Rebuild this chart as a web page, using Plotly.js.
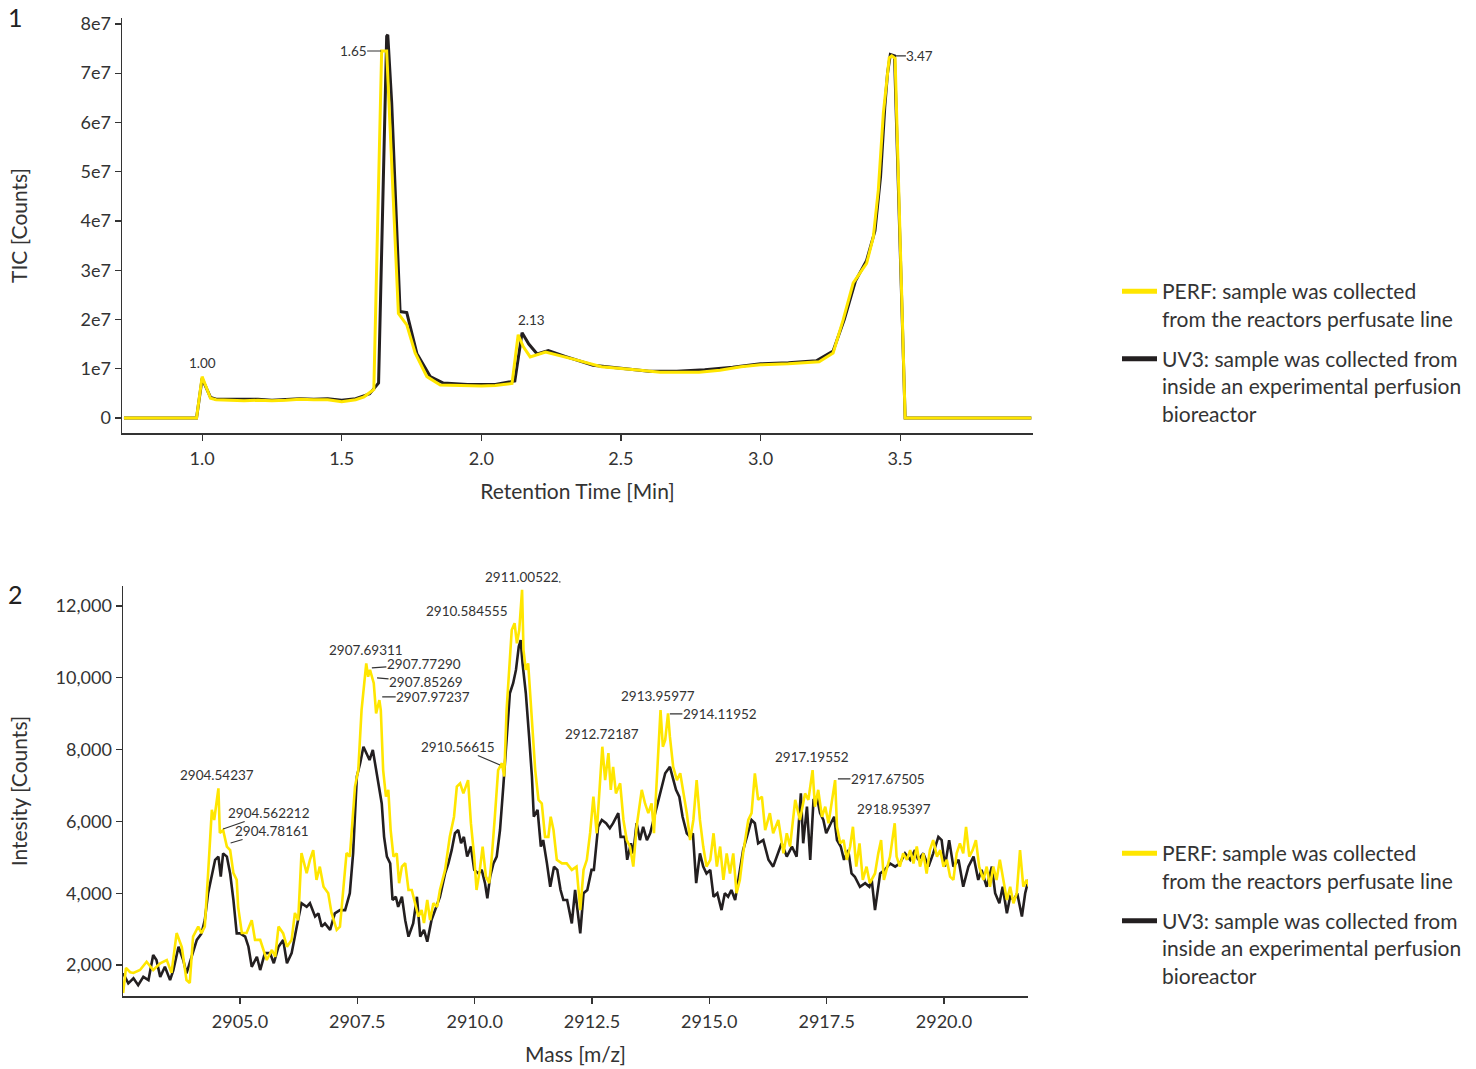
<!DOCTYPE html>
<html>
<head>
<meta charset="utf-8">
<script src="https://cdn.plot.ly/plotly-3.0.1.min.js"></script>
<style>html,body{margin:0;padding:0;background:#fff;}#chart{width:1476px;height:1069px;}</style>
</head>
<body>
<div id="chart"></div>
<script>
// ---------- Panel 1: TIC chromatogram ----------
const rtPerf = [0.72, 0.98, 1.00, 1.03, 1.05, 1.10, 1.15, 1.20, 1.25, 1.30,
  1.35, 1.40, 1.45, 1.50, 1.55, 1.58, 1.615, 1.643, 1.661, 1.703,
  1.733, 1.763, 1.805, 1.853, 1.90, 2.00, 2.05, 2.11, 2.132, 2.15,
  2.175, 2.23, 2.34, 2.43, 2.57, 2.64, 2.78, 2.855, 2.93, 3.00,
  3.10, 3.21, 3.26, 3.296, 3.332, 3.38, 3.404, 3.422, 3.44, 3.452,
  3.461, 3.47, 3.482, 3.518, 3.97];
const ticPerf = [0, 0, 8.4e6, 4.0e6, 3.7e6, 3.6e6, 3.5e6, 3.6e6, 3.5e6, 3.6e6,
  3.8e6, 3.7e6, 3.7e6, 3.3e6, 3.7e6, 4.3e6, 5.8e6, 7.45e7, 7.45e7, 2.12e7,
  1.89e7, 1.32e7, 8.4e6, 6.7e6, 6.6e6, 6.5e6, 6.6e6, 7.0e6, 1.69e7, 1.45e7,
  1.24e7, 1.34e7, 1.18e7, 1.04e7, 9.7e6, 9.3e6, 9.3e6, 9.7e6, 1.04e7, 1.08e7,
  1.10e7, 1.14e7, 1.32e7, 1.99e7, 2.74e7, 3.14e7, 3.67e7, 4.63e7, 6.19e7, 6.86e7,
  7.31e7, 7.35e7, 7.3e7, 0, 0];
const rtUv3 = [0.72, 0.98, 1.00, 1.03, 1.05, 1.10, 1.15, 1.20, 1.25, 1.30,
  1.35, 1.40, 1.45, 1.50, 1.55, 1.60, 1.632, 1.661, 1.665, 1.679,
  1.709, 1.733, 1.769, 1.817, 1.864, 1.95, 2.05, 2.12, 2.146, 2.17,
  2.20, 2.24, 2.30, 2.40, 2.50, 2.60, 2.70, 2.80, 2.90, 3.00,
  3.10, 3.20, 3.26, 3.30, 3.34, 3.38, 3.41, 3.43, 3.445, 3.455,
  3.465, 3.48, 3.518, 3.97];
const ticUv3 = [0, 0, 8.0e6, 4.2e6, 3.8e6, 3.8e6, 3.7e6, 3.8e6, 3.6e6, 3.8e6,
  3.9e6, 3.8e6, 3.9e6, 3.6e6, 3.9e6, 4.9e6, 7.1e6, 7.75e7, 7.78e7, 6.4e7,
  2.16e7, 2.14e7, 1.31e7, 8.4e6, 7.1e6, 6.8e6, 6.8e6, 7.5e6, 1.73e7, 1.5e7,
  1.3e7, 1.37e7, 1.25e7, 1.07e7, 1.01e7, 9.5e6, 9.5e6, 9.8e6, 1.03e7, 1.1e7,
  1.12e7, 1.16e7, 1.36e7, 2.0e7, 2.78e7, 3.2e7, 3.8e7, 4.9e7, 6.3e7, 7.0e7,
  7.38e7, 7.35e7, 0, 0];
const ticTickVals = [0, 1e7, 2e7, 3e7, 4e7, 5e7, 6e7, 7e7, 8e7];
const ticTickText = ['0', '1e7', '2e7', '3e7', '4e7', '5e7', '6e7', '7e7', '8e7'];
const rtTickVals = [1.0, 1.5, 2.0, 2.5, 3.0, 3.5];
const rtTickText = ['1.0', '1.5', '2.0', '2.5', '3.0', '3.5'];
const ticPeakLabels = ['1.00', '1.65', '2.13', '3.47'];

// ---------- Panel 2: mass spectrum ----------
const mzPerf = [2902.51, 2902.57, 2902.66, 2902.73, 2902.87, 2903.01, 2903.15, 2903.30, 2903.44, 2903.54,
  2903.65, 2903.76, 2903.86, 2903.93, 2904.00, 2904.11, 2904.18, 2904.25, 2904.32, 2904.40,
  2904.45, 2904.54, 2904.57, 2904.64, 2904.72, 2904.79, 2904.86, 2904.93, 2904.96, 2905.04,
  2905.14, 2905.25, 2905.32, 2905.43, 2905.57, 2905.68, 2905.75, 2905.82, 2905.92, 2906.00,
  2906.10, 2906.17, 2906.24, 2906.31, 2906.42, 2906.49, 2906.56, 2906.63, 2906.70, 2906.78,
  2906.88, 2906.95, 2907.06, 2907.13, 2907.27, 2907.34, 2907.45, 2907.52, 2907.59, 2907.69,
  2907.73, 2907.77, 2907.85, 2907.90, 2907.97, 2908.00, 2908.05, 2908.11, 2908.16, 2908.21,
  2908.27, 2908.34, 2908.39, 2908.45, 2908.52, 2908.59, 2908.66, 2908.73, 2908.80, 2908.87,
  2908.92, 2908.99, 2909.05, 2909.12, 2909.20, 2909.26, 2909.37, 2909.47, 2909.56, 2909.62,
  2909.69, 2909.76, 2909.82, 2909.86, 2909.92, 2909.99, 2910.04, 2910.11, 2910.17, 2910.24,
  2910.31, 2910.36, 2910.43, 2910.50, 2910.58, 2910.63, 2910.68, 2910.74, 2910.79, 2910.85,
  2910.90, 2910.95, 2911.01, 2911.04, 2911.09, 2911.14, 2911.22, 2911.29, 2911.36, 2911.43,
  2911.50, 2911.57, 2911.62, 2911.68, 2911.75, 2911.86, 2911.96, 2912.07, 2912.17, 2912.25,
  2912.32, 2912.39, 2912.46, 2912.53, 2912.60, 2912.72, 2912.78, 2912.85, 2912.90, 2912.95,
  2913.01, 2913.10, 2913.17, 2913.24, 2913.31, 2913.38, 2913.45, 2913.56, 2913.63, 2913.70,
  2913.77, 2913.82, 2913.88, 2913.96, 2914.01, 2914.06, 2914.12, 2914.16, 2914.23, 2914.31,
  2914.38, 2914.45, 2914.52, 2914.59, 2914.66, 2914.73, 2914.80, 2914.87, 2914.94, 2915.02,
  2915.09, 2915.16, 2915.23, 2915.30, 2915.37, 2915.44, 2915.51, 2915.58, 2915.65, 2915.72,
  2915.83, 2915.90, 2915.97, 2916.04, 2916.12, 2916.19, 2916.29, 2916.36, 2916.47, 2916.58,
  2916.65, 2916.72, 2916.83, 2916.93, 2917.04, 2917.11, 2917.20, 2917.25, 2917.32, 2917.40,
  2917.47, 2917.54, 2917.68, 2917.72, 2917.79, 2917.86, 2917.93, 2918.00, 2918.06, 2918.13,
  2918.20, 2918.27, 2918.35, 2918.42, 2918.53, 2918.60, 2918.66, 2918.72, 2918.79, 2918.85,
  2918.95, 2918.99, 2919.06, 2919.13, 2919.21, 2919.28, 2919.35, 2919.42, 2919.49, 2919.56,
  2919.63, 2919.70, 2919.77, 2919.85, 2919.92, 2919.99, 2920.06, 2920.13, 2920.20, 2920.27,
  2920.34, 2920.41, 2920.47, 2920.54, 2920.61, 2920.68, 2920.75, 2920.84, 2920.91, 2920.98,
  2921.05, 2921.12, 2921.19, 2921.27, 2921.34, 2921.41, 2921.48, 2921.55, 2921.62, 2921.69,
  2921.76, 2921.81];
const intPerf = [1220, 1920, 1800, 1780, 1860, 2090, 1860, 2050, 2140, 1780,
  2890, 2500, 1580, 1500, 2790, 3070, 2890, 3070, 4550, 6320,
  6040, 6920, 5680, 5760, 5300, 5200, 4560, 4370, 3620, 2890,
  2890, 3250, 2700, 2700, 2140, 2420, 2230, 3070, 2880, 2510,
  2700, 3450, 3250, 5120, 4560, 4930, 5200, 4370, 4740, 4180,
  4000, 3450, 2980, 3070, 5120, 5020, 6970, 7430, 9100, 10400,
  10030, 10220, 9850, 9010, 9380, 9100, 7430, 6690, 6880, 5760,
  5020, 5110, 4280, 4740, 4840, 4090, 4090, 3730, 3350, 3530,
  3170, 3810, 3250, 3720, 3620, 4090, 4650, 5570, 6130, 6970,
  7060, 6780, 6970, 7150, 5950, 5020, 4090, 4650, 5300, 4460,
  4280, 4930, 6130, 7430, 7620, 7250, 9100, 10400, 11330, 11520,
  10960, 11330, 12450, 10780, 10220, 10400, 8730, 7430, 6600, 6500,
  5570, 5570, 6130, 5760, 4930, 4830, 4830, 4650, 4740, 3530,
  4650, 4930, 5680, 6690, 5670, 8080, 7150, 7900, 6880, 7520,
  6780, 7060, 6040, 5480, 5300, 4740, 5850, 6880, 6500, 6230,
  6500, 5670, 7150, 9100, 8080, 8270, 9010, 8360, 7520, 7150,
  7340, 6780, 6230, 5480, 6040, 7150, 6040, 5300, 4740, 4930,
  5670, 4740, 5300, 4370, 5110, 4550, 5110, 4000, 4370, 5110,
  6040, 6230, 7340, 6600, 6690, 5760, 6230, 5670, 6040, 5110,
  5670, 5300, 6600, 6040, 6780, 6600, 7430, 6410, 6880, 6130,
  6410, 5950, 7150, 5850, 5390, 5480, 4930, 5300, 5850, 4740,
  5390, 4370, 4740, 4280, 4550, 5110, 5480, 4370, 4740, 5020,
  5950, 5020, 4740, 5110, 4930, 5200, 4830, 5300, 4740, 5110,
  4550, 5200, 5480, 5020, 5200, 4740, 4930, 4460, 4370, 5110,
  5390, 5110, 5850, 5020, 5200, 5480, 4740, 4370, 4740, 4180,
  4740, 4370, 4930, 4370, 3810, 4180, 3720, 4000, 5200, 4180,
  4370, 4180];
const mzUv3 = [2902.51, 2902.62, 2902.73, 2902.83, 2902.94, 2903.05, 2903.15, 2903.22, 2903.30, 2903.40,
  2903.51, 2903.58, 2903.69, 2903.79, 2903.86, 2903.97, 2904.08, 2904.18, 2904.25, 2904.32,
  2904.40, 2904.47, 2904.54, 2904.59, 2904.64, 2904.72, 2904.79, 2904.86, 2904.93, 2905.00,
  2905.11, 2905.18, 2905.25, 2905.36, 2905.43, 2905.53, 2905.64, 2905.72, 2905.82, 2905.92,
  2906.00, 2906.10, 2906.21, 2906.31, 2906.42, 2906.49, 2906.60, 2906.67, 2906.74, 2906.81,
  2906.92, 2907.02, 2907.13, 2907.24, 2907.34, 2907.41, 2907.49, 2907.56, 2907.63, 2907.70,
  2907.76, 2907.83, 2907.90, 2907.97, 2908.02, 2908.07, 2908.13, 2908.20, 2908.25, 2908.32,
  2908.37, 2908.45, 2908.52, 2908.59, 2908.69, 2908.77, 2908.84, 2908.92, 2908.99, 2909.08,
  2909.16, 2909.26, 2909.37, 2909.44, 2909.51, 2909.58, 2909.65, 2909.71, 2909.77, 2909.84,
  2909.92, 2909.99, 2910.08, 2910.15, 2910.22, 2910.27, 2910.33, 2910.40, 2910.47, 2910.54,
  2910.61, 2910.68, 2910.75, 2910.82, 2910.88, 2910.94, 2910.98, 2911.02, 2911.09, 2911.16,
  2911.22, 2911.26, 2911.34, 2911.41, 2911.46, 2911.54, 2911.61, 2911.69, 2911.76, 2911.83,
  2911.89, 2911.97, 2912.07, 2912.14, 2912.25, 2912.32, 2912.40, 2912.49, 2912.54, 2912.63,
  2912.71, 2912.80, 2912.88, 2912.95, 2913.06, 2913.11, 2913.20, 2913.25, 2913.33, 2913.38,
  2913.45, 2913.52, 2913.59, 2913.67, 2913.74, 2913.81, 2913.88, 2913.96, 2914.06, 2914.16,
  2914.23, 2914.29, 2914.36, 2914.43, 2914.52, 2914.59, 2914.65, 2914.72, 2914.80, 2914.87,
  2914.94, 2915.02, 2915.09, 2915.17, 2915.26, 2915.33, 2915.40, 2915.47, 2915.55, 2915.62,
  2915.72, 2915.80, 2915.90, 2915.97, 2916.04, 2916.15, 2916.26, 2916.36, 2916.47, 2916.54,
  2916.65, 2916.76, 2916.86, 2916.95, 2917.00, 2917.08, 2917.15, 2917.22, 2917.29, 2917.36,
  2917.43, 2917.49, 2917.59, 2917.66, 2917.72, 2917.80, 2917.87, 2917.96, 2918.03, 2918.10,
  2918.21, 2918.32, 2918.41, 2918.46, 2918.53, 2918.64, 2918.74, 2918.85, 2918.96, 2919.06,
  2919.17, 2919.28, 2919.38, 2919.45, 2919.56, 2919.67, 2919.77, 2919.88, 2919.95, 2920.02,
  2920.11, 2920.20, 2920.31, 2920.41, 2920.52, 2920.63, 2920.73, 2920.80, 2920.91, 2921.02,
  2921.09, 2921.18, 2921.25, 2921.34, 2921.41, 2921.49, 2921.56, 2921.66, 2921.73, 2921.80];
const intUv3 = [1770, 1490, 1630, 1440, 1670, 1580, 2280, 2140, 1670, 1950,
  1580, 1860, 2510, 2140, 1770, 2230, 2700, 2880, 3250, 4000,
  4550, 4930, 5020, 4460, 5110, 5020, 4550, 3810, 2880, 2880,
  2790, 2510, 1950, 2230, 1860, 2330, 2330, 2050, 2510, 2700,
  2050, 2330, 3070, 3720, 3620, 3720, 3350, 3440, 3070, 3160,
  2980, 3440, 3530, 3530, 4000, 5110, 7250, 7620, 8080, 7900,
  7710, 7990, 7430, 6970, 6500, 5570, 5020, 4830, 3810, 3900,
  3620, 3900, 3250, 2790, 3160, 3900, 2790, 2980, 2650, 3250,
  3530, 3900, 4550, 4830, 5200, 5670, 5760, 5390, 5570, 5020,
  5300, 4650, 4550, 4650, 4280, 3860, 4460, 4830, 5020, 5760,
  6970, 8360, 9570, 9850, 10220, 10870, 11050, 10400, 9570, 8360,
  7250, 6130, 6320, 5300, 5480, 4830, 4180, 4740, 4650, 4090,
  3810, 3810, 3160, 4090, 2880, 4000, 4090, 4650, 4650, 5850,
  6040, 5950, 5810, 5950, 6230, 5570, 5570, 4930, 5390, 5110,
  5950, 5480, 5850, 5480, 5670, 6040, 6410, 6880, 7340, 7520,
  7150, 6880, 6690, 6130, 5670, 5570, 5670, 4280, 5110, 4740,
  4550, 4650, 3900, 4000, 3530, 4000, 3900, 4090, 3810, 4370,
  5200, 5570, 6040, 5950, 5390, 5480, 4930, 4740, 5110, 5390,
  5020, 5300, 5020, 6780, 5390, 6410, 4930, 6600, 6690, 6230,
  6040, 5670, 5950, 6130, 5480, 5300, 4930, 5200, 4550, 4460,
  4180, 4280, 4180, 4370, 3530, 4550, 4650, 4830, 4740, 4830,
  5110, 4930, 5200, 4930, 5110, 4740, 5110, 5570, 5480, 4740,
  5480, 4740, 4930, 4180, 4740, 5020, 4370, 4650, 4180, 4740,
  4000, 3720, 4180, 3440, 3900, 3810, 4000, 3350, 4000, 4370];
const massTickVals = [2905.0, 2907.5, 2910.0, 2912.5, 2915.0, 2917.5, 2920.0];
const intTickVals = [2000, 4000, 6000, 8000, 10000, 12000];
const massPeakLabels = ['2904.54237', '2904.562212', '2904.78161', '2907.69311', '2907.77290',
  '2907.85269', '2907.97237', '2910.584555', '2911.00522', '2910.56615', '2912.72187',
  '2913.95977', '2914.11952', '2917.19552', '2917.67505', '2918.95397'];

const seriesNames = [
  'PERF: sample was collected<br>from the reactors perfusate line',
  'UV3: sample was collected from<br>inside an experimental perfusion<br>bioreactor'
];

const YELLOW = '#FFE600';
const BLACK = '#231F20';
const TXT = '#333333';
const FONT = 'Lato, "Open Sans", sans-serif';

const traces = [
  {x: rtUv3, y: ticUv3, xaxis: 'x', yaxis: 'y', mode: 'lines', line: {color: BLACK, width: 3}, showlegend: false},
  {x: rtPerf, y: ticPerf, xaxis: 'x', yaxis: 'y', mode: 'lines', line: {color: YELLOW, width: 3}, showlegend: false},
  {x: mzUv3, y: intUv3, xaxis: 'x2', yaxis: 'y2', mode: 'lines', line: {color: BLACK, width: 2.6}, showlegend: false},
  {x: mzPerf, y: intPerf, xaxis: 'x2', yaxis: 'y2', mode: 'lines', line: {color: YELLOW, width: 2.6}, showlegend: false},
  // legend entries
  {x: [null], y: [null], xaxis: 'x', yaxis: 'y', mode: 'lines', name: seriesNames[0], line: {color: YELLOW, width: 5}, legend: 'legend', legendgroup: 'a'},
  {x: [null], y: [null], xaxis: 'x', yaxis: 'y', mode: 'lines', name: seriesNames[1], line: {color: BLACK, width: 5}, legend: 'legend', legendgroup: 'b'},
  {x: [null], y: [null], xaxis: 'x2', yaxis: 'y2', mode: 'lines', name: seriesNames[0], line: {color: YELLOW, width: 5}, legend: 'legend2', legendgroup: 'a'},
  {x: [null], y: [null], xaxis: 'x2', yaxis: 'y2', mode: 'lines', name: seriesNames[1], line: {color: BLACK, width: 5}, legend: 'legend2', legendgroup: 'b'}
];

const W = 1476, H = 1069;
const axisCommon = {
  showline: true, linecolor: TXT, linewidth: 1.5, ticks: 'outside', ticklen: 6, tickwidth: 1.2,
  tickcolor: TXT, showgrid: false, zeroline: false, tickfont: {size: 18, color: TXT, family: FONT}
};
const titleFont = {size: 21, color: TXT, family: FONT};

function ann(xref, yref, x, y, text, ax, ay) {
  const a = {xref: xref, yref: yref, x: x, y: y, text: text, borderpad: 0, font: {size: 13.5, color: TXT, family: FONT}};
  if (ax === undefined) { a.showarrow = false; }
  else { a.showarrow = true; a.arrowhead = 0; a.arrowwidth = 1.2; a.arrowcolor = TXT; a.ax = ax; a.ay = ay; a.standoff = 0; a.startstandoff = 0; }
  return a;
}

const annotations = [
  {xref: 'paper', yref: 'paper', x: 15 / W, y: 1 - 17 / H, xanchor: 'center', yanchor: 'middle', text: '1', showarrow: false, font: {size: 25, color: '#222', family: FONT}},
  {xref: 'paper', yref: 'paper', x: 15 / W, y: 1 - 594 / H, xanchor: 'center', yanchor: 'middle', text: '2', showarrow: false, font: {size: 25, color: '#222', family: FONT}},
  ann('x', 'y', 1.0, 1.12e7, ticPeakLabels[0]),
  ann('x', 'y', 1.641, 7.45e7, ticPeakLabels[1], -28, 0),
  ann('x', 'y', 2.18, 1.99e7, ticPeakLabels[2]),
  ann('x', 'y', 3.485, 7.35e7, ticPeakLabels[3], 24, 0),
  ann('x2', 'y2', 2904.51, 7293, massPeakLabels[0]),
  ann('x2', 'y2', 2904.64, 5789, massPeakLabels[1], 46, -16),
  ann('x2', 'y2', 2904.80, 5399, massPeakLabels[2], 41, -12),
  ann('x2', 'y2', 2907.68, 10776, massPeakLabels[3]),
  ann('x2', 'y2', 2907.81, 10274, massPeakLabels[4], 52, -4),
  ann('x2', 'y2', 2907.92, 9996, massPeakLabels[5], 49, 4),
  ann('x2', 'y2', 2908.03, 9466, massPeakLabels[6], 51, 0),
  ann('x2', 'y2', 2909.84, 11862, massPeakLabels[7]),
  ann('x2', 'paper', 2911.83, 1 - 582 / H, massPeakLabels[8], -39, -5),
  ann('x2', 'y2', 2910.54, 7572, massPeakLabels[9], -42, -18),
  ann('x2', 'y2', 2912.71, 8436, massPeakLabels[10]),
  ann('x2', 'y2', 2913.91, 9494, massPeakLabels[11]),
  ann('x2', 'y2', 2914.16, 8993, massPeakLabels[12], 50, 0),
  ann('x2', 'y2', 2917.19, 7795, massPeakLabels[13]),
  ann('x2', 'y2', 2917.74, 7182, massPeakLabels[14], 50, 0),
  ann('x2', 'y2', 2918.94, 6346, massPeakLabels[15])
];

const legendCommon = {
  xanchor: 'left', yanchor: 'top', valign: 'top', bgcolor: 'rgba(0,0,0,0)', itemwidth: 35,
  font: {size: 21, color: TXT, family: FONT}, tracegroupgap: 10, traceorder: 'grouped'
};

const layout = {
  width: W, height: H,
  margin: {l: 0, r: 0, t: 0, b: 0},
  paper_bgcolor: '#fff', plot_bgcolor: '#fff',
  font: {family: FONT, color: TXT},
  xaxis: Object.assign({}, axisCommon, {
    domain: [122 / W, 1033 / W], anchor: 'y', range: [0.713, 3.976],
    tickvals: rtTickVals, ticktext: rtTickText, ticklabelstandoff: 3,
    title: {text: 'Retention Time [Min]', font: titleFont, standoff: 16}
  }),
  yaxis: Object.assign({}, axisCommon, {
    domain: [1 - 433 / H, 1 - 18 / H], anchor: 'x', range: [-0.305e7, 8.12e7],
    tickvals: ticTickVals, ticktext: ticTickText,
    title: {text: 'TIC [Counts]', font: titleFont, standoff: 47}
  }),
  xaxis2: Object.assign({}, axisCommon, {
    domain: [123 / W, 1028 / W], anchor: 'y2', range: [2902.507, 2921.79],
    tickvals: massTickVals, tickformat: '.1f', ticklabelstandoff: 3,
    title: {text: 'Mass [m/z]', font: titleFont, standoff: 16}
  }),
  yaxis2: Object.assign({}, axisCommon, {
    domain: [1 - 996 / H, 1 - 586 / H], anchor: 'x2', range: [1137, 12557],
    tickvals: intTickVals, tickformat: ',',
    title: {text: 'Intesity [Counts]', font: titleFont, standoff: 22}
  }),
  legend: Object.assign({}, legendCommon, {x: 1117 / W, y: 1 - 271 / H}),
  legend2: Object.assign({}, legendCommon, {x: 1117 / W, y: 1 - 833 / H}),
  annotations: annotations
};

Plotly.newPlot('chart', traces, layout, {staticPlot: true, displayModeBar: false});
</script>
</body>
</html>
